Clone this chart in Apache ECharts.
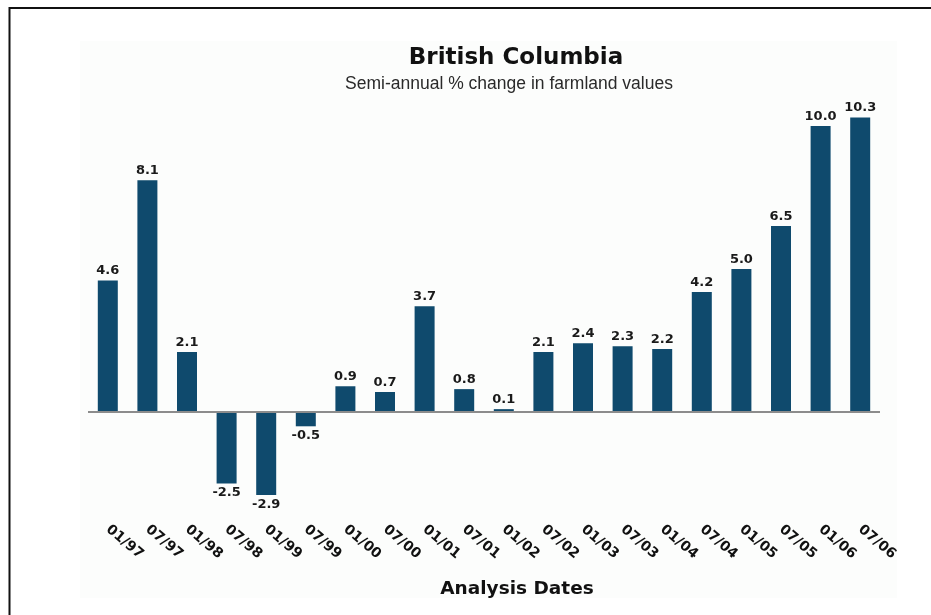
<!DOCTYPE html>
<html>
<head>
<meta charset="utf-8">
<script src="https://cdn.jsdelivr.net/npm/echarts@6/dist/echarts.min.js"></script>
<style>
  html, body { margin: 0; padding: 0; background: #ffffff; }
  #chart { width: 931px; height: 615px; }
</style>
</head>
<body>
<div id="chart"></div>
<script>
// Semi-annual analysis dates
const categories = ['01/97', '07/97', '01/98', '07/98', '01/99', '07/99', '01/00', '07/00',
  '01/01', '07/01', '01/02', '07/02', '01/03', '07/03', '01/04', '07/04',
  '01/05', '07/05', '01/06', '07/06'];

// Percent change in farmland values for each period
const changes = [4.6, 8.1, 2.1, -2.5, -2.9, -0.5, 0.9, 0.7, 3.7, 0.8, 0.1, 2.1,
  2.4, 2.3, 2.2, 4.2, 5.0, 6.5, 10.0, 10.3];

const FONT = '"DejaVu Sans", Verdana, sans-serif';
const FONT_LIGHT = '"Liberation Sans", Arial, Helvetica, sans-serif';
const BAR = '#0f4a6d';

const chart = echarts.init(document.getElementById('chart'), null, { renderer: 'canvas' });

chart.setOption({
  backgroundColor: '#ffffff',
  animation: false,
  graphic: [
    {
      type: 'rect', z: -10,
      shape: { x: 80, y: 41, width: 817, height: 557 },
      style: { fill: '#fcfdfc' }
    },
    {
      type: 'rect', z: 10,
      shape: { x: 9.5, y: 8, width: 940, height: 700 },
      style: { fill: 'none', stroke: '#111111', lineWidth: 2 }
    }
  ],
  title: [
    {
      text: 'British Columbia',
      left: 511, top: 42, textAlign: 'center',
      textStyle: { fontFamily: FONT, fontSize: 23, fontWeight: 'bold', color: '#111111' }
    },
    {
      text: 'Semi-annual % change in farmland values',
      left: 504, top: 70, textAlign: 'center',
      textStyle: { fontFamily: FONT_LIGHT, fontSize: 17.5, fontWeight: 'normal', color: '#2a2a2a' }
    },
    {
      text: 'Analysis Dates',
      left: 512, top: 575, textAlign: 'center',
      textStyle: { fontFamily: FONT, fontSize: 18.5, fontWeight: 'bold', color: '#111111' }
    }
  ],
  grid: { left: 88, right: 51, top: 97.4, height: 400.4, containLabel: false },
  xAxis: {
    type: 'category',
    data: categories,
    position: 'bottom',
    axisLine: { show: false, onZero: false },
    axisTick: { show: false },
    axisLabel: {
      interval: 0,
      rotate: -40,
      margin: 30,
      fontFamily: FONT,
      fontSize: 14,
      fontWeight: 'bold',
      color: '#111111'
    }
  },
  yAxis: {
    type: 'value',
    min: -3,
    max: 11,
    show: false,
    splitLine: { show: false }
  },
  series: [{
    type: 'bar',
    barWidth: 20,
    data: changes.map(v => ({
      value: v,
      label: { position: v < 0 ? 'bottom' : 'top' }
    })),
    itemStyle: { color: BAR },
    label: {
      show: true,
      distance: 3,
      formatter: p => p.value.toFixed(1),
      fontFamily: FONT,
      fontSize: 13,
      fontWeight: 'bold',
      color: '#1a1a1a'
    },
    markLine: {
      silent: true,
      symbol: ['none', 'none'],
      label: { show: false },
      lineStyle: { color: '#8c8c8c', width: 2, type: 'solid' },
      data: [{ yAxis: 0 }]
    }
  }]
});
</script>
</body>
</html>
